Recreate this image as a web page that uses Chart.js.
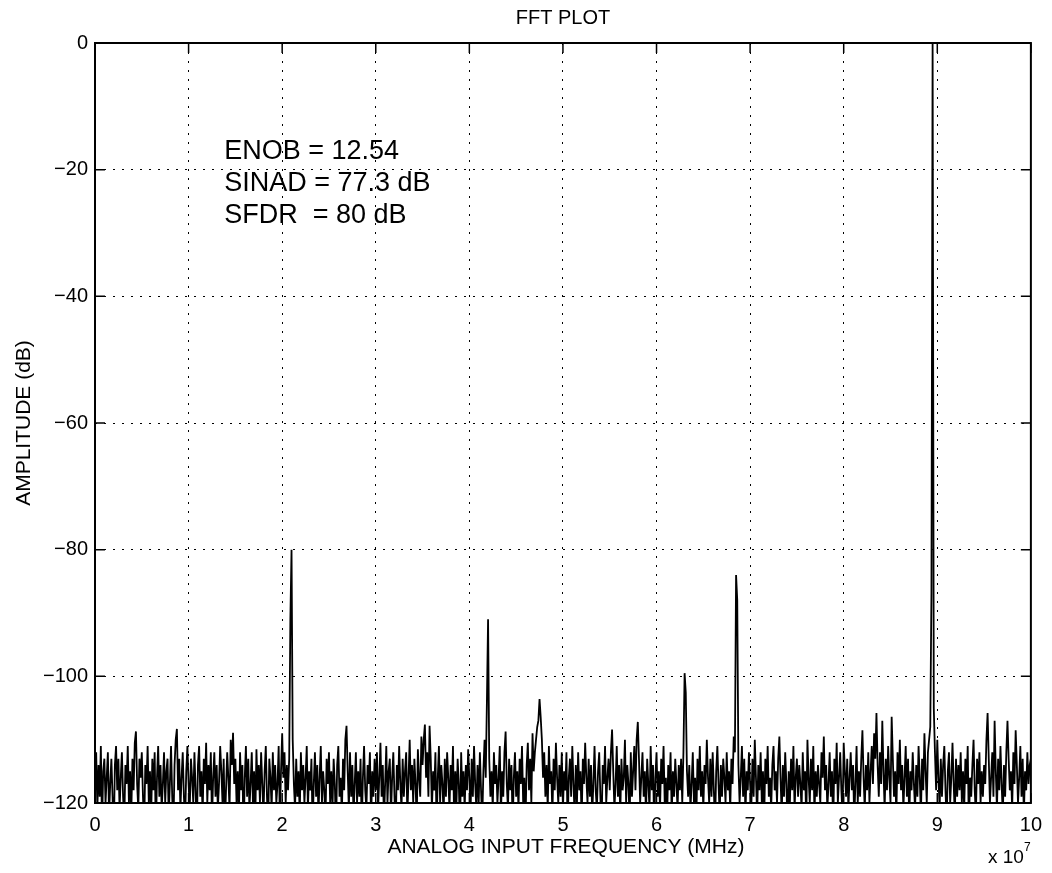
<!DOCTYPE html>
<html lang="en">
<head>
<meta charset="UTF-8">
<title>FFT PLOT</title>
<script src="https://cdn.jsdelivr.net/npm/chart.js"></script>
<style>
  html, body { margin: 0; padding: 0; background: #fff; }
  #wrap { width: 1052px; height: 873px; }
</style>
</head>
<body>
<div id="wrap"><canvas id="fft" width="1052" height="873"></canvas></div>
<script>
// frequency bins: 0 .. 10 (x 10^7 Hz), one bin every 0.0125
const binStep = 0.0125;
const xTicks = [0, 1, 2, 3, 4, 5, 6, 7, 8, 9, 10];
const yTicks = [-120, -100, -80, -60, -40, -20, 0];

// amplitude in dB (20 bins per row = 0.25 units)
const amplitude = [
  -117, -112, -121, -114, -119, -111, -124, -115, -113, -120, -116, -112, -122, -117, -113, -119, -126, -114, -111, -118,
  -113, -121, -116, -112, -119, -123, -114, -117, -111, -120, -115, -122, -113, -118, -110.5, -108.7, -117, -121, -113, -116,
  -112, -119, -124, -114, -117, -111, -120, -115, -122, -113, -118, -112, -125, -116, -111, -119, -114, -121, -117, -112,
  -120, -115, -113, -122, -117, -111, -119, -124, -114, -110, -108.3, -118, -113, -121, -116, -112, -119, -123, -115, -111,
  -117, -121, -113, -116, -120, -112, -118, -125, -114, -111, -119, -115, -122, -113, -117, -110.5, -120, -114, -118, -112,
  -123, -116, -112, -119, -114, -121, -117, -111, -115, -120, -113, -124, -118, -112, -116, -121, -110, -114, -108.9, -117,
  -113, -120, -115, -122, -112, -118, -114, -126, -116, -111, -119, -113, -121, -117, -112, -120, -115, -123, -111.5, -118,
  -114, -120, -112, -117, -122, -115, -111, -119, -124, -113, -116, -121, -112, -118, -114, -120, -117, -111, -123, -115,
  -109, -116, -112, -120, -114, -118, -113, -91, -80, -110, -117, -121, -113, -119, -115, -122, -112, -118, -114, -120,
  -116, -111, -121, -115, -118, -113, -124, -117, -112, -119, -114, -122, -116, -111, -120, -115, -118, -123, -113, -117,
  -112, -120, -115, -121, -113, -117, -125, -114, -111, -119, -116, -122, -113, -118, -110, -107.8, -115, -121, -112, -119,
  -114, -122, -117, -112, -120, -115, -119, -113, -124, -116, -111, -118, -121, -114, -117, -112, -123, -115, -119, -113,
  -118, -112, -121, -116, -110.5, -119, -114, -123, -117, -111, -120, -115, -113, -122, -116, -112, -119, -125, -114, -118,
  -111, -117, -121, -113, -119, -115, -112, -122, -116, -110, -118, -114, -120, -113, -117, -123, -111.5, -116, -119, -109.5,
  -114, -110, -107.6, -116, -112, -119, -107.8, -113, -121, -115, -118, -112, -124, -116, -111, -120, -114, -117, -122, -113,
  -119, -112, -116, -121, -114, -118, -111, -123, -115, -120, -113, -117, -125, -112, -119, -115, -121, -114, -118, -111.5,
  -116, -122, -113, -119, -111, -117, -121, -114, -120, -112, -118, -123, -115, -110, -116, -104, -91, -113, -119, -115,
  -121, -112, -117, -114, -120, -116, -111, -122, -115, -119, -112, -108.7, -117, -121, -113, -118, -114, -124, -116, -112,
  -119, -115, -121, -113, -117, -111, -120, -116, -123, -114, -110.5, -118, -113, -120, -109, -115, -112, -110, -108, -107,
  -103.6, -106.5, -110, -116, -112, -119, -114, -121, -111, -117, -115, -122, -113, -118, -110.5, -116, -120, -114, -119, -112,
  -121, -115, -118, -112, -124, -116, -113, -119, -111, -117, -122, -114, -120, -112, -118, -115, -123, -113, -117, -110.5,
  -116, -120, -113, -119, -114, -122, -117, -111, -118, -121, -115, -112, -119, -124, -114, -117, -111, -120, -116, -113,
  -118, -112, -108.4, -115, -121, -117, -111, -119, -114, -122, -113, -118, -116, -110, -120, -114, -117, -123, -112, -119,
  -115, -111, -118, -110, -107.2, -113, -120, -116, -112, -119, -115, -122, -113, -117, -121, -111, -118, -114, -124, -116,
  -112, -119, -115, -121, -113, -117, -111, -120, -116, -123, -114, -118, -112, -122, -115, -119, -113, -117, -121, -114,
  -118, -113, -120, -112, -99.5, -102.6, -115, -119, -114, -121, -117, -112, -120, -116, -123, -113, -118, -111, -119, -115,
  -121, -114, -117, -110, -116, -120, -113, -119, -112, -118, -124, -115, -111, -117, -122, -114, -119, -113, -116, -120,
  -112, -118, -115, -121, -113, -117, -109.5, -112, -84, -88, -114, -120, -116, -111, -119, -113, -122, -115, -118, -112,
  -117, -121, -113, -119, -110, -116, -122, -114, -118, -112, -120, -115, -123, -113, -117, -111, -119, -116, -121, -114,
  -111, -118, -115, -120, -113, -109.5, -116, -122, -114, -119, -112, -117, -124, -115, -120, -113, -118, -111, -121, -116,
  -113, -119, -114, -117, -121, -112, -118, -115, -123, -110, -116, -120, -113, -118, -111, -122, -115, -119, -114, -117,
  -120, -112, -116, -109.5, -118, -114, -121, -117, -112, -119, -115, -124, -113, -117, -110.5, -120, -116, -112, -118, -122,
  -110.5, -115, -119, -113, -121, -116, -112, -118, -114, -123, -117, -111, -120, -115, -119, -113, -108.5, -116, -121, -114,
  -118, -112, -120, -115, -111, -117, -109, -113, -105.8, -114, -119, -112, -117, -107, -115, -121, -113, -118, -111, -116,
  -120, -106.4, -113, -119, -115, -122, -112, -117, -110, -118, -114, -121, -116, -111, -119, -113, -123, -115, -118, -112,
  -117, -121, -114, -119, -111, -116, -122, -113, -118, -109, -115, -120, -112, -110, -108, -87, 0, -105, -112, -118,
  -110, -116, -121, -113, -119, -114, -111, -118, -123, -115, -112, -120, -116, -110.5, -117, -122, -113, -119, -114, -118,
  -112, -120, -115, -121, -113, -117, -111, -124, -116, -119, -114, -110, -118, -122, -113, -117, -112, -120, -115, -119,
  -114, -117, -110, -105.8, -113, -120, -116, -112, -119, -107, -115, -121, -113, -118, -111, -117, -122, -114, -119, -112,
  -107, -113, -118, -115, -121, -112, -117, -108.5, -114, -120, -116, -111, -119, -113, -122, -115, -118, -112, -117, -114,
  -113
];

const notes = ['ENOB = 12.54', 'SINAD = 77.3 dB', 'SFDR  = 80 dB'];

const points = amplitude.map((v, i) => ({ x: i * binStep, y: v }));
const FONT = "'Liberation Sans', Arial, Helvetica, sans-serif";

const matlabFrame = {
  id: 'matlabFrame',
  afterDraw(chart) {
    const ctx = chart.ctx;
    const a = chart.chartArea;
    const xs = chart.scales.x, ys = chart.scales.y;
    ctx.save();
    ctx.strokeStyle = '#000';
    ctx.lineWidth = 2;
    ctx.strokeRect(a.left, a.top, a.right - a.left, a.bottom - a.top);
    // inward ticks on all four sides
    ctx.lineWidth = 1.5;
    ctx.beginPath();
    xTicks.forEach(t => {
      const px = xs.getPixelForValue(t);
      ctx.moveTo(px, a.bottom); ctx.lineTo(px, a.bottom - 10);
      ctx.moveTo(px, a.top); ctx.lineTo(px, a.top + 10);
    });
    yTicks.forEach(t => {
      const py = ys.getPixelForValue(t);
      ctx.moveTo(a.left, py); ctx.lineTo(a.left + 10, py);
      ctx.moveTo(a.right, py); ctx.lineTo(a.right - 10, py);
    });
    ctx.stroke();

    ctx.fillStyle = '#000';
    ctx.textAlign = 'center';
    ctx.textBaseline = 'middle';
    ctx.font = '20px ' + FONT;
    ctx.fillText('FFT PLOT', (a.left + a.right) / 2, 18);
    ctx.font = '21px ' + FONT;
    ctx.fillText('ANALOG INPUT FREQUENCY (MHz)', (a.left + a.right) / 2 + 3, 847);
    ctx.save();
    ctx.translate(24, (a.top + a.bottom) / 2);
    ctx.rotate(-Math.PI / 2);
    ctx.fillText('AMPLITUDE (dB)', 0, 0);
    ctx.restore();
    // exponent label
    ctx.textAlign = 'left';
    ctx.font = '19px ' + FONT;
    ctx.fillText('x 10', 988, 858);
    ctx.font = '12px ' + FONT;
    ctx.fillText('7', 1024, 848);
    // annotation block
    ctx.font = '27px ' + FONT;
    const nx = xs.getPixelForValue(1.38);
    [-17.1, -22.2, -27.2].forEach((v, i) => {
      ctx.fillText(notes[i], nx, ys.getPixelForValue(v));
    });
    ctx.restore();
  }
};

new Chart(document.getElementById('fft'), {
  type: 'line',
  data: {
    datasets: [{
      data: points,
      borderColor: '#000',
      borderWidth: 1.8,
      pointRadius: 0,
      tension: 0,
      fill: false
    }]
  },
  options: {
    responsive: false,
    animation: false,
    layout: { padding: { top: 43, right: 17, left: 0, bottom: 0 } },
    plugins: { legend: { display: false }, title: { display: false }, tooltip: { enabled: false } },
    scales: {
      x: {
        type: 'linear',
        min: 0, max: 10,
        afterBuildTicks: s => { s.ticks = xTicks.map(v => ({ value: v })); },
        afterFit: s => { s.height = 70; },
        grid: { color: '#000', lineWidth: 1, drawTicks: false },
        border: { display: false, dash: [2, 7] },
        ticks: { color: '#000', padding: 10, font: { family: FONT, size: 20 }, maxRotation: 0 }
      },
      y: {
        min: -120, max: 0,
        afterBuildTicks: s => { s.ticks = yTicks.map(v => ({ value: v })); },
        afterFit: s => { s.width = 95; },
        grid: { color: '#000', lineWidth: 1, drawTicks: false },
        border: { display: false, dash: [2, 7] },
        ticks: {
          color: '#000', padding: 7, font: { family: FONT, size: 20 },
          callback: v => v < 0 ? '\u2212' + Math.abs(v) : String(v)
        }
      }
    }
  },
  plugins: [matlabFrame]
});
</script>
</body>
</html>
